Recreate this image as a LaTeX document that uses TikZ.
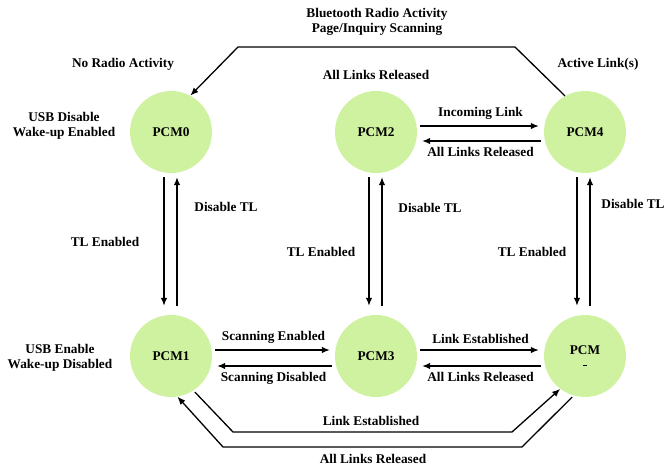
\documentclass[tikz,border=0pt]{standalone}
\usepackage{fontspec}
\setmainfont{Liberation Serif}
\usepackage{xcolor}
\usetikzlibrary{arrows.meta, positioning}

\definecolor{pcmgreen}{RGB}{207,242,160}

\tikzset{
    every node/.style={font=\fontsize{13.3}{14.5}\selectfont\bfseries, align=center},
    pcm/.style={circle, fill=pcmgreen, minimum size=82pt, inner sep=0pt},
    trans/.style={-{Latex[length=8pt,width=6.5pt]}, line width=1.3pt},
    down/.style={trans, shorten <=4pt, shorten >=9pt},
    up/.style={trans, shorten <=9pt, shorten >=4pt},
    side/.style={trans, shorten <=3pt, shorten >=5pt},
}

\begin{document}
\begin{tikzpicture}[x=1pt, y=-1pt]
    \useasboundingbox (0,0) rectangle (665,468);

    % power states
    \node[pcm] (PCM0) at (171,132) {PCM0};
    \node[pcm] (PCM1) at (171,356) {PCM1};
    \node[pcm] (PCM2) at (376,132) {PCM2};
    \node[pcm] (PCM3) at (376,356) {PCM3};
    \node[pcm] (PCM4) at (585,132) {PCM4};
    \node[pcm] (PCM5) at (585,356) {PCM\\[-3pt]\rule{4pt}{1.3pt}};

    % side texts
    \node (btradio) at (377,22) {Bluetooth Radio Activity\\Page/Inquiry Scanning};
    \node (noradio) at (123,64) {No Radio Activity};
    \node (released) at (376,75) {All Links Released};
    \node (active) at (598,64) {Active Link(s)};
    \node (usbdis) at (64,126) {USB Disable\\Wake-up Enabled};
    \node (usben) at (60,358) {USB Enable\\Wake-up Disabled};

    % TL transitions
    \draw[down] ([xshift=-7pt]PCM0.south) -- ([xshift=-7pt]PCM1.north);
    \draw[up] ([xshift=6pt]PCM1.north) -- ([xshift=6pt]PCM0.south);
    \node (dis0) at (226,207) {Disable TL};
    \node (en0) at (105,242) {TL Enabled};

    \draw[down] ([xshift=-7pt]PCM2.south) -- ([xshift=-7pt]PCM3.north);
    \draw[up] ([xshift=6pt]PCM3.north) -- ([xshift=6pt]PCM2.south);
    \node (dis2) at (430,208) {Disable TL};
    \node (en2) at (321,252) {TL Enabled};

    \draw[down] ([xshift=-8pt]PCM4.south) -- ([xshift=-8pt]PCM5.north);
    \draw[up] ([xshift=5pt]PCM5.north) -- ([xshift=5pt]PCM4.south);
    \node (dis4) at (633,204) {Disable TL};
    \node (en4) at (532,252) {TL Enabled};

    % horizontal transitions
    \draw[side] ([yshift=6pt]PCM2.east) to node[above=2.5pt] {Incoming Link} ([yshift=6pt]PCM4.west);
    \draw[side] ([yshift=-9pt]PCM4.west) to node[below=2.5pt] {All Links Released} ([yshift=-9pt]PCM2.east);

    \draw[side] ([yshift=6pt]PCM1.east) to node[above=2.5pt] {Scanning Enabled} ([yshift=6pt]PCM3.west);
    \draw[side] ([yshift=-10pt]PCM3.west) to node[below=2.5pt] {Scanning Disabled} ([yshift=-10pt]PCM1.east);

    \draw[side] ([yshift=6pt]PCM3.east) to node[above=2.5pt] {Link Established} ([yshift=6pt]PCM5.west);
    \draw[side] ([yshift=-10pt]PCM5.west) to node[below=2.5pt] {All Links Released} ([yshift=-10pt]PCM3.east);

    % outer loops
    \coordinate (top1) at (515,47);
    \coordinate (top2) at (238,47);
    \draw[trans] (PCM4.119) -- (top1) -- (top2) -- (PCM0.62);

    \coordinate (est1) at (233,432);
    \coordinate (est2) at (512,432);
    \draw[trans, shorten <=2pt] (PCM1.-57) -- (est1) -- (est2) -- (PCM5.-127);
    \node (estlbl) at (371,421) {Link Established};

    \coordinate (rel1) at (522,447);
    \coordinate (rel2) at (223,447);
    \draw[trans, shorten <=2pt] (PCM5.-106) -- (rel1) -- (rel2) -- (PCM1.-81);
    \node (rellbl) at (373,459) {All Links Released};
\end{tikzpicture}
\end{document}
